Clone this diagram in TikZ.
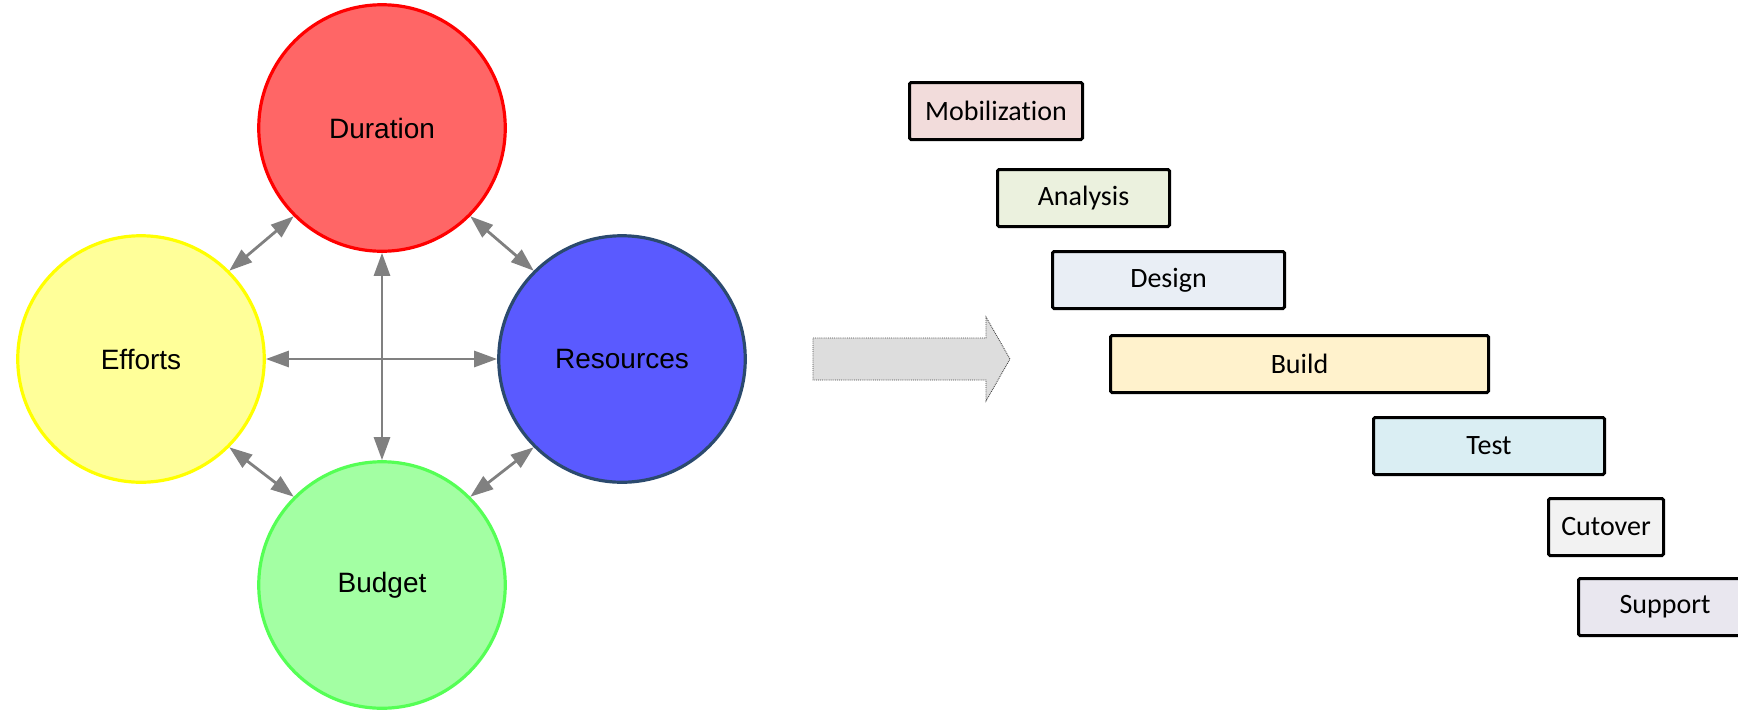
\documentclass[tikz,border=0pt]{standalone}
\usepackage{fontspec}
\setmainfont{Liberation Sans}
\newfontfamily\boxfont[Ligatures=NoCommon]{Carlito}
\usetikzlibrary{arrows.meta}
\definecolor{durfill}{HTML}{FF6666}
\definecolor{durline}{HTML}{FF0000}
\definecolor{efffill}{HTML}{FFFF99}
\definecolor{effline}{HTML}{FFFF00}
\definecolor{resfill}{HTML}{5A5AFF}
\definecolor{resline}{HTML}{2B4A6E}
\definecolor{budfill}{HTML}{A3FFA3}
\definecolor{budline}{HTML}{55FF55}
\definecolor{linkgray}{HTML}{808080}
\definecolor{mobfill}{HTML}{F2DCDB}
\definecolor{anafill}{HTML}{EBF1DE}
\definecolor{desfill}{HTML}{E9EEF5}
\definecolor{bldfill}{HTML}{FFF2CC}
\definecolor{tstfill}{HTML}{DAEEF3}
\definecolor{cutfill}{HTML}{F2F2F2}
\definecolor{supfill}{HTML}{E9E7EF}
\definecolor{arrfill}{HTML}{DDDDDD}
\tikzset{
  ball/.style={circle, line width=3.2pt, minimum size=246.5pt, inner sep=0pt,
    font=\fontsize{28}{34}\selectfont},
  link/.style={linkgray, line width=2.8pt, {Triangle[length=23pt,width=16pt]}-{Triangle[length=23pt,width=16pt]}},
  phase/.style={draw=black, line width=3pt, rounded corners=1.5pt, anchor=north west,
    minimum height=57pt, inner sep=0pt, font=\boxfont\fontsize{28}{34}\selectfont},
  bigarrow/.style={fill=arrfill, draw=gray!55!black, line width=0.9pt, densely dotted}
}
\begin{document}
\begin{tikzpicture}[x=1pt,y=-1pt]
\useasboundingbox (0,0) rectangle (1738,710);
% circles
\node[ball, fill=durfill, draw=durline] (dur) at (382,128) {Duration};
\node[ball, fill=efffill, draw=effline] (eff) at (141,359) {Efforts};
\node[ball, fill=resfill, draw=resline] (res) at (622,359) {Resources};
\node[ball, fill=budfill, draw=budline] (bud) at (382,585) {Budget};
% links
\draw[link] (eff.east) -- (res.west);
\draw[link] (dur.south) -- (bud.north);
\draw[link] (eff.north east) -- (dur.south west);
\draw[link] (dur.south east) -- (res.north west);
\draw[link] (eff.south east) -- (bud.north west);
\draw[link] (res.south west) -- (bud.north east);
% big arrow
\draw[bigarrow] (813,338) -- (986,338) -- (986,317) -- (1010,359) -- (986,401) -- (986,380) -- (813,380) -- cycle;
% phases
\node[phase, fill=mobfill, minimum width=173pt] (mob) at (908,81) {Mobilization};
\node[phase, fill=anafill, minimum width=172pt] (ana) at (996,168) {Analysis};
\node[phase, fill=desfill, minimum width=232pt] (des) at (1051,250) {Design};
\node[phase, fill=bldfill, minimum width=378pt] (bld) at (1109,334) {Build};
\node[phase, fill=tstfill, minimum width=231pt] (tst) at (1372,416) {Test};
\node[phase, fill=cutfill, minimum width=115pt] (cut) at (1547,497) {Cutover};
\node[phase, fill=supfill, minimum width=173pt] (sup) at (1577,577) {Support};
\end{tikzpicture}
\end{document}
